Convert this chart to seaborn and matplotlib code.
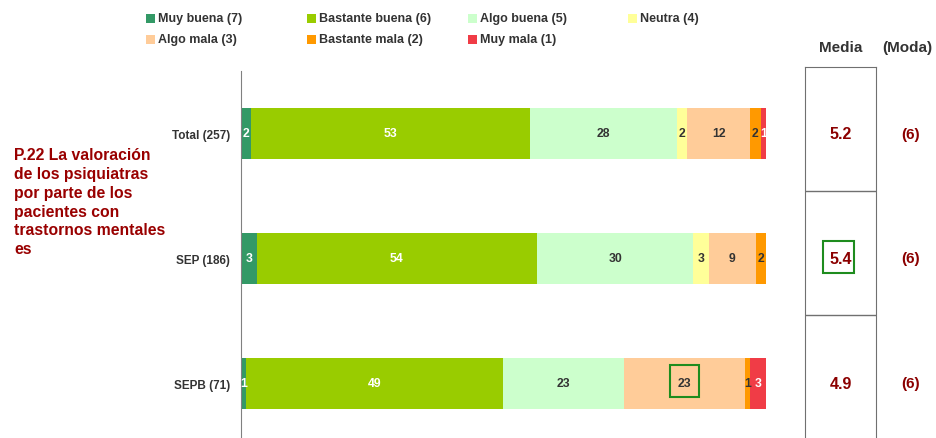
import numpy as np
import pandas as pd
import seaborn as sns
import matplotlib.pyplot as plt
from matplotlib.patches import Rectangle

groups = ['Total (257)', 'SEP (186)', 'SEPB (71)']
categories = ['Muy buena (7)', 'Bastante buena (6)', 'Algo buena (5)', 'Neutra (4)',
              'Algo mala (3)', 'Bastante mala (2)', 'Muy mala (1)']
colors = ['#339966', '#99CC00', '#CCFFCC', '#FFFF99', '#FFCC99', '#FF9900', '#F03C46']
label_colors = ['white', 'white', '#333333', '#333333', '#333333', '#333333', 'white']

muy_buena = [2, 3, 1]
bastante_buena = [53, 54, 49]
algo_buena = [28, 30, 23]
neutra = [2, 3, 0]
algo_mala = [12, 9, 23]
bastante_mala = [2, 2, 1]
muy_mala = [1, 0, 3]

media = [5.2, 5.4, 4.9]
moda = [6, 6, 6]

title = 'P.22 La valoración\nde los psiquiatras\npor parte de los\npacientes con\ntrastornos mentales\nes'

df = pd.DataFrame(dict(zip(categories, [muy_buena, bastante_buena, algo_buena, neutra,
                                        algo_mala, bastante_mala, muy_mala])), index=groups)
# rounded percentages -> widths normalised per row
widths = df.div(df.sum(axis=1), axis=0) * 100
cum = widths.cumsum(axis=1)

sns.set_style("white")
plt.rcParams['font.family'] = ['Liberation Sans', 'DejaVu Sans']

W, H = 937, 439
fig = plt.figure(figsize=(W / 100, H / 100), dpi=100)


def v(p):
    # pixel row -> value on the category axis
    return -0.5 + (p - 72) / 125


ax = fig.add_axes([241 / W, 0, 525 / W, (H - 72) / H])

for j in reversed(range(len(categories))):
    d = pd.DataFrame({'grupo': groups, 'valor': cum.iloc[:, j].values})
    sns.barplot(data=d, x='valor', y='grupo', color=colors[j], saturation=1,
                width=0.41, orient='h', linewidth=0, ax=ax)

for i in range(len(groups)):
    for j in range(len(categories)):
        val = df.iloc[i, j]
        if val > 0:
            c = cum.iloc[i, j] - widths.iloc[i, j] / 2
            ax.text(c, i, str(val), ha='center', va='center', fontsize=8.8,
                    fontweight='bold', color=label_colors[j])

# highlighted cell
c = cum.iloc[2, 4] - widths.iloc[2, 4] / 2
ax.add_patch(Rectangle((c - 2.7, v(366)), 5.4, v(398) - v(366), fill=False,
                       edgecolor='#1E8C1E', lw=1.5, clip_on=False))

ax.set_xlim(0, 100)
ax.set_ylim(v(H), -0.5)
ax.set_xticks([])
ax.set_xlabel('')
ax.set_ylabel('')
for s in ['top', 'right', 'bottom']:
    ax.spines[s].set_visible(False)
ax.spines['left'].set_color('#808080')
ax.set_yticks(range(len(groups)))
ax.set_yticklabels(groups, fontsize=8.5, fontweight='bold', color='#333333')
ax.tick_params(axis='y', which='major', length=0, pad=8)
ax.set_yticks([-0.5, 0.5, 1.5], minor=True)
ax.tick_params(axis='y', which='minor', length=4, color='#808080', direction='out')

# table with media / moda
ax_t = fig.add_axes([805 / W, 0, 71 / W, (H - 68) / H])
ax_t.set_xlim(0, 1)
ax_t.set_ylim(v(H), v(68))
ax_t.set_xticks([])
ax_t.set_yticks([])
ax_t.spines['bottom'].set_visible(False)
for s in ['top', 'left', 'right']:
    ax_t.spines[s].set_color('#707070')
for p in [192, 316]:
    ax_t.axhline(v(p), color='#707070', lw=1)
for i in range(len(groups)):
    ax_t.text(0.5, i, f'{media[i]:.1f}', ha='center', va='center', fontsize=11.5,
              fontweight='bold', color='#8B0000')
    ax_t.text((911 - 805) / 71, i, f'({moda[i]})', ha='center', va='center', fontsize=11,
              fontweight='bold', color='#8B0000', clip_on=False)
ax_t.add_patch(Rectangle((0.25, v(242)), 0.44, v(274) - v(242), fill=False,
                         edgecolor='#1E8C1E', lw=1.5, clip_on=False))

fig.text(841 / W, 1 - 48 / H, 'Media', ha='center', va='center', fontsize=11,
         fontweight='bold', color='#333333')
fig.text(907 / W, 1 - 48 / H, '(Moda)', ha='center', va='center', fontsize=11,
         fontweight='bold', color='#333333')

fig.text(14 / W, 1 - 148 / H, title, ha='left', va='top', fontsize=11.3,
         fontweight='bold', color='#990000', linespacing=1.32)

# legend, laid out in fixed-width columns
legend_pos = [(146, 19), (307, 19), (468, 19), (628, 19), (146, 40), (307, 40), (468, 40)]
legend_order = [0, 1, 2, 3, 4, 5, 6]
for (px, py), j in zip(legend_pos, legend_order):
    fig.patches.append(Rectangle((px / W, 1 - (py + 5) / H), 9 / W, 9 / H,
                                 transform=fig.transFigure, facecolor=colors[j],
                                 edgecolor='none'))
    fig.text((px + 12) / W, 1 - py / H, categories[j], ha='left', va='center',
             fontsize=9, fontweight='bold', color='#333333')

fig.savefig('out.png', dpi=100)
